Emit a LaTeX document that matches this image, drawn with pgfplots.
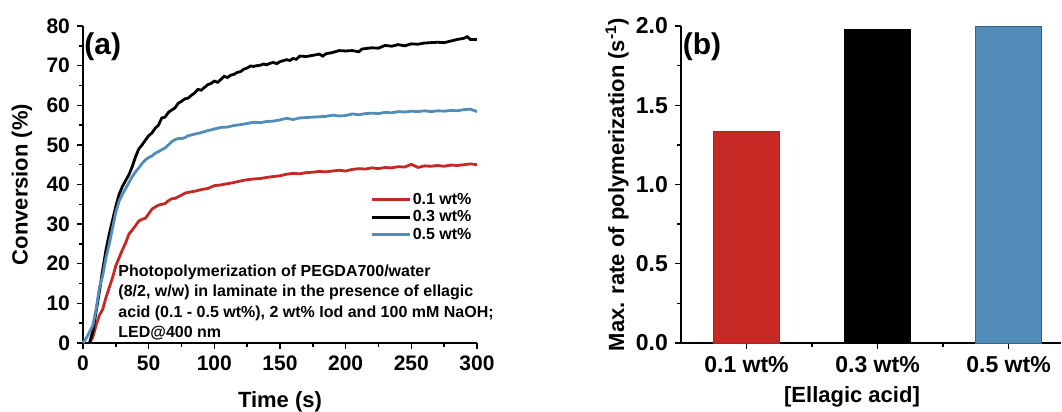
\documentclass[border=0pt]{standalone}
\usepackage{pgfplots}
\pgfplotsset{compat=1.18}
\usepackage{fontspec}
\setmainfont{Liberation Sans}
\definecolor{cred}{HTML}{C62823}
\definecolor{cblue}{HTML}{528DBA}
\begin{document}
\begin{tikzpicture}
\path[use as bounding box] (-41.5pt,-34.5pt) rectangle (489.5pt,171.5pt);
\pgfplotsset{
  every axis/.append style={
    scale only axis,
    axis lines*=left,
    axis line style={line width=0.7pt},
    tick style={line width=0.7pt, black},
    tick align=outside,
    major tick length=3pt,
    minor tick length=1.8pt,
    /pgf/number format/assume math mode=true,
    tick label style={font=\fontsize{10.5}{12}\selectfont\bfseries},
    label style={font=\fontsize{11}{13}\selectfont\bfseries},
  }
}
\begin{axis}[
  at={(0,0)}, anchor=south west,
  width=197pt, height=158.5pt,
  xmin=0, xmax=300, ymin=0, ymax=80,
  xtick={0,50,...,300}, minor xtick={25,75,...,275},
  ytick={0,10,...,80}, minor ytick={5,15,...,75},
  xlabel={Time (s)}, ylabel={Conversion (\%)},
  xlabel style={at={(axis description cs:0.5,-0.185)}, anchor=center},
  ylabel style={at={(axis description cs:-0.155,0.5)}, anchor=center},
  legend style={draw=none, fill=none, at={(axis cs:297,38.5)}, anchor=north east,
    font=\fontsize{8}{9}\selectfont\bfseries, inner sep=0pt,
    nodes={inner sep=0.6pt, text height=6pt, text depth=1.6pt}},
  legend cell align=left,
  legend image code/.code={\draw[#1] (0pt,0pt) -- (19pt,0pt);},
  clip=false,
]
\addplot[cred, line width=1.4pt] coordinates {
(5,0) (7.5,1.5) (10,4.5) (12.5,7) (15,8.5) (17.5,11.5) (20,14) (22.5,16.5) (25,19.5) (27.5,21.5) (30,23.5) (32.5,25.3) (35,27.5) (37.5,28.5) (40,29.6) (42.5,30.8) (45,31.2) (47.5,31.5) (50,32.6) (52.5,33.8) (55,34.3) (57.5,34.8) (60,35.0) (62.5,35.2) (65,35.9) (67.5,36.4) (70,36.5) (72.5,36.9) (75,37.3) (77.5,37.8) (80,38.0) (85,38.3) (90,38.7) (95,39.0) (100,39.7) (105,39.9) (110,40.2) (115,40.5) (120,40.9) (125,41.2) (130,41.4) (135,41.5) (140,41.8) (145,42.0) (150,42.2) (155,42.6) (160,42.8) (165,42.7) (170,43.0) (175,43.1) (180,43.3) (185,43.2) (190,43.4) (195,43.6) (200,43.4) (205,43.8) (210,44.0) (215,43.9) (220,44.2) (225,44.0) (230,44.3) (235,44.2) (240,44.5) (245,44.4) (250,45.1) (255,44.3) (260,44.7) (265,44.6) (270,44.8) (275,44.6) (280,44.9) (285,44.8) (290,45.0) (295,45.2) (300,45.0)
};
\addlegendentry{0.1 wt\%}
\addplot[black, line width=1.4pt] coordinates {
(5,0) (7.5,3) (10,8) (12.5,13) (15,18.5) (17.5,23.5) (20,27.5) (22.5,31) (25,34.5) (27.5,37.5) (30,39.5) (32.5,41) (35,42.5) (37.5,44.5) (40,47) (42.5,49) (45,50) (47.5,51.2) (50,52.3) (52.5,53) (55,54.2) (57.5,55) (60,56.8) (62.5,57) (65,58.2) (67.5,58.8) (70,59.3) (72.5,60.5) (75,61) (77.5,61.6) (80,61.8) (82.5,62.5) (85,63.1) (87.5,64) (90,63.8) (92.5,64.5) (95,65.2) (97.5,65.5) (100,66.1) (102.5,65.8) (105,66.5) (107.5,67.3) (110,67.0) (112.5,67.6) (115,67.8) (117.5,68.3) (120,68.5) (122.5,69.1) (125,69.4) (127.5,69.9) (130,69.8) (132.5,70.0) (135,70.1) (137.5,70.4) (140,70.2) (142.5,70.6) (145,70.8) (147.5,70.5) (150,71.0) (155,71.5) (157.5,71.3) (160,71.8) (162.5,71.6) (165,72.4) (170,72.3) (175,72.6) (180,72.9) (182.5,72.4) (185,73.0) (190,73.3) (195,73.8) (200,73.7) (205,73.8) (210,73.5) (212.5,74.2) (215,74.3) (220,74.5) (225,74.4) (230,75.1) (235,74.9) (240,75.3) (245,75.0) (250,75.5) (255,75.4) (260,75.7) (265,75.8) (270,75.9) (275,75.8) (280,76.2) (285,76.6) (290,76.9) (292.5,77.3) (295,76.6) (300,76.6)
};
\addlegendentry{0.3 wt\%}
\addplot[cblue, line width=1.4pt] coordinates {
(0,0) (2.5,1.2) (5,2.8) (7.5,4.5) (10,8.5) (12.5,14) (15,17) (17.5,21.5) (20,25) (22.5,29) (25,33) (27.5,35.8) (30,37.5) (32.5,39) (35,40.5) (37.5,42) (40,43.2) (42.5,44.2) (45,45.3) (47.5,46.2) (50,46.8) (52.5,47.2) (55,47.9) (57.5,48.3) (60,48.8) (62.5,49.2) (65,50.0) (67.5,50.8) (70,51.3) (72.5,51.6) (75,51.6) (77.5,51.8) (80,52.3) (82.5,52.5) (85,52.7) (87.5,52.9) (90,53.1) (95,53.6) (100,54.0) (105,54.4) (110,54.5) (115,54.9) (120,55.1) (125,55.4) (130,55.7) (135,55.6) (140,55.9) (145,56.0) (150,56.3) (155,56.7) (160,56.4) (165,56.8) (170,56.9) (175,57.0) (180,57.1) (185,57.2) (190,57.5) (195,57.3) (200,57.4) (205,57.8) (210,57.6) (215,57.9) (220,58.0) (225,57.9) (230,58.2) (235,58.1) (240,58.4) (245,58.3) (250,58.5) (255,58.4) (260,58.6) (265,58.4) (270,58.6) (275,58.5) (280,58.7) (285,58.6) (290,58.9) (295,59.0) (300,58.4)
};
\addlegendentry{0.5 wt\%}
\node[anchor=north west, inner sep=0pt, align=left, font=\fontsize{8}{10.3}\selectfont\bfseries] at (axis cs:26.7,19.9)
  {Photopolymerization of PEGDA700/water\\(8/2, w/w) in laminate in the presence of ellagic\\acid (0.1 - 0.5 wt\%), 2 wt\% Iod and 100 mM NaOH;\\LED@400 nm};
\node[font=\fontsize{15}{17}\selectfont\bfseries, inner sep=0pt] at (axis cs:15,74.7) {(a)};
\end{axis}

\begin{axis}[
  at={(299pt,0)}, anchor=south west,
  width=190pt, height=158.5pt,
  xmin=-0.5, xmax=2.4, ymin=0, ymax=2.0,
  xtick={0,1,2}, xticklabels={0.1 wt\%,0.3 wt\%,0.5 wt\%},
  minor xtick={0.5,1.5},
  ytick={0,0.5,...,2.0}, minor ytick={0.25,0.75,...,1.75},
  yticklabel style={/pgf/number format/.cd, fixed, fixed zerofill, precision=1},
  tick label style={font=\fontsize{11.5}{13}\selectfont\bfseries},
  xlabel={[Ellagic acid]}, ylabel={Max. rate of polymerization (s\textsuperscript{-1})},
  xlabel style={at={(axis description cs:0.45,-0.17)}, anchor=center},
  ylabel style={at={(axis description cs:-0.168,0.5)}, anchor=center},
  ybar, bar width=0.5, bar shift=0pt,
  clip=false,
]
\addplot[fill=cred, draw=black!70, line width=0.4pt] coordinates {(0,1.336)};
\addplot[fill=black, draw=black, line width=0.4pt] coordinates {(1,1.977)};
\addplot[fill=cblue, draw=cblue!70!black, line width=0.4pt] coordinates {(2,1.998)};
\node[font=\fontsize{15}{17}\selectfont\bfseries, inner sep=0pt] at (axis cs:-0.34,1.87) {(b)};
\end{axis}
\end{tikzpicture}
\end{document}
